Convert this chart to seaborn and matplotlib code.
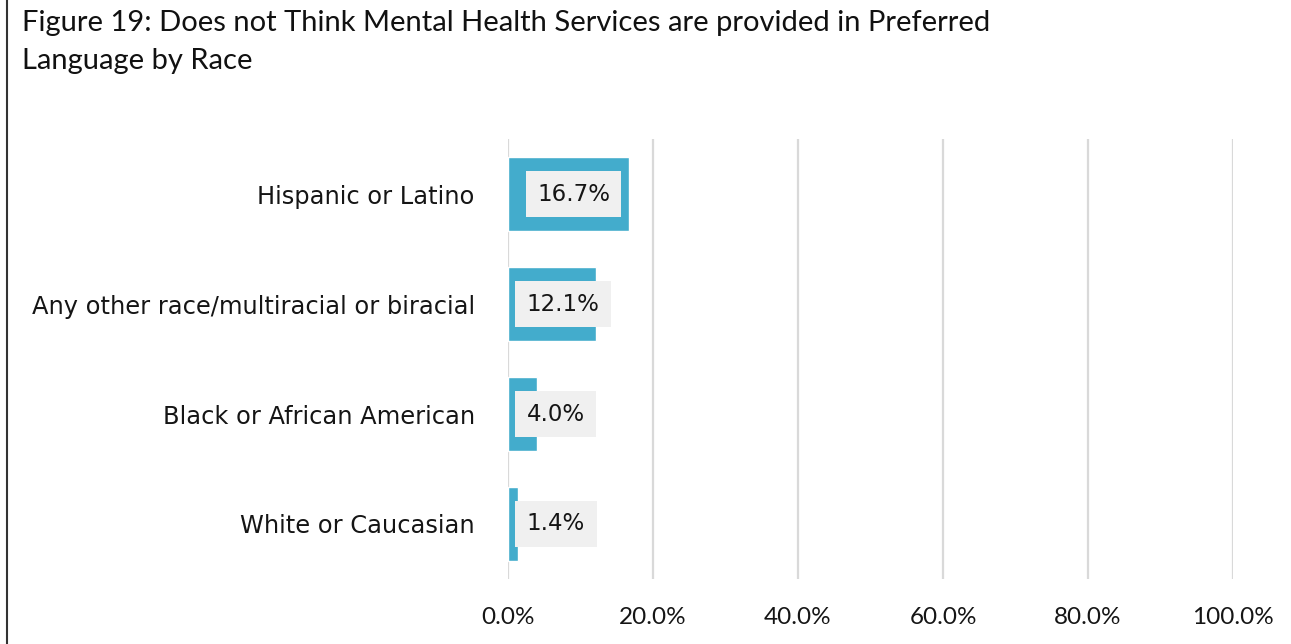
import seaborn as sns
import pandas as pd
import matplotlib.pyplot as plt
from matplotlib.lines import Line2D

# data
races = ["Hispanic or Latino", "Any other race/multiracial or biracial",
         "Black or African American", "White or Caucasian"]
pct = [16.7, 12.1, 4.0, 1.4]
ticks = [0, 20, 40, 60, 80, 100]

df = pd.DataFrame({"race": races, "pct": pct})

sns.set_style("white")
plt.rcParams['font.family'] = ['DejaVu Sans']

fig = plt.figure(figsize=(12.91, 6.44), dpi=100)
ax = fig.add_axes([0.3935, 0.101, 0.5616, 0.683])

sns.barplot(data=df, x="pct", y="race", orient="h", color="#43ACCC",
            saturation=1, width=0.67, ax=ax)

ax.set_xlim(0, 100)
ax.set_xticks(ticks)
ax.set_xticklabels([f"{t:.1f}%" for t in ticks], family="Lato", fontsize=17.5, color="#151515")
ax.tick_params(axis="x", length=0, pad=20)
ax.tick_params(axis="y", length=0, pad=24, labelsize=17.4, labelcolor="#151515")
ax.set_xlabel("")
ax.set_ylabel("")
for s in ax.spines.values():
    s.set_visible(False)
ax.xaxis.grid(True, color="#D9D9D9", linewidth=1.6)
ax.set_axisbelow(True)

# data labels in light grey boxes
offsets = [4.0, 2.6, 2.6, 2.6]
for i, (v, off) in enumerate(zip(pct, offsets)):
    ax.text(off, i, f"{v:.1f}%", ha="left", va="center", fontsize=16.5, color="#151515",
            bbox=dict(boxstyle="square,pad=0.5", facecolor="#F0F0F0", edgecolor="none"))

fig.text(0.017, 0.985, "Figure 19: Does not Think Mental Health Services are provided in Preferred\nLanguage by Race",
         ha="left", va="top", family="Lato", fontsize=21, color="#111111", linespacing=1.6)

fig.add_artist(Line2D([0.0055, 0.0055], [0, 1], color="#333333", linewidth=1.5))

fig.savefig("out.png", dpi=100, facecolor="white")
